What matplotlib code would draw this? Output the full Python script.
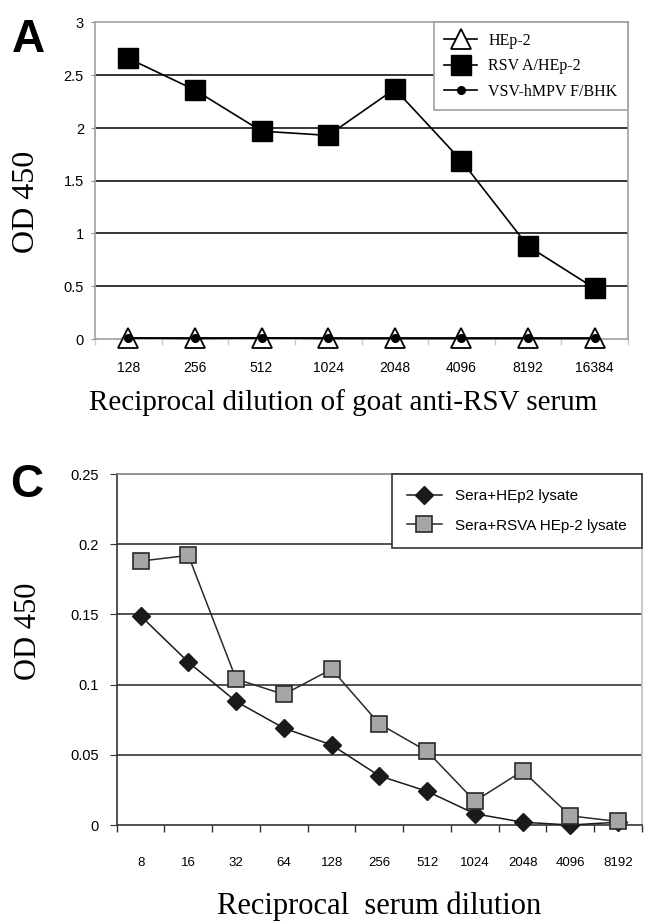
"""
Two-panel ELISA figure: OD 450 vs reciprocal dilution (panels A and C).
"""

import numpy as np
import matplotlib
matplotlib.use("Agg")
import matplotlib.pyplot as plt
from matplotlib.ticker import FixedLocator

# Panel A data
dil_a = ['128', '256', '512', '1024', '2048', '4096', '8192', '16384']
hep2 = [0.01, 0.01, 0.01, 0.01, 0.01, 0.01, 0.01, 0.01]
rsv_a = [2.66, 2.36, 1.97, 1.93, 2.37, 1.69, 0.88, 0.48]
vsv = [0.01, 0.005, 0.01, 0.005, 0.005, 0.005, 0.005, 0.005]

# Panel C data
dil_c = ['8', '16', '32', '64', '128', '256', '512', '1024', '2048', '4096', '8192']
sera_hep2 = [0.149, 0.116, 0.088, 0.069, 0.057, 0.035, 0.024, 0.008, 0.002, 0.0, 0.002]
sera_rsva = [0.188, 0.192, 0.104, 0.093, 0.111, 0.072, 0.0525, 0.017, 0.0385, 0.0065, 0.0025]

SANS = 'Liberation Sans'
SERIF = 'Liberation Serif'
W, H = 649, 922

fig = plt.figure(figsize=(W / 100, H / 100), dpi=100)


def px_axes(left, top, right, bottom):
    return fig.add_axes([left / W, 1 - bottom / H, (right - left) / W, (bottom - top) / H])


def cat_axis(ax, labels, pad, size, tick_color, tick_len):
    n = len(labels)
    x = np.arange(n)
    ax.set_xlim(-0.5, n - 0.5)
    ax.set_xticks(x)
    ax.set_xticklabels(labels, fontfamily=SANS, fontsize=size)
    ax.tick_params(axis='x', which='major', length=0, pad=pad)
    ax.xaxis.set_minor_locator(FixedLocator(np.arange(n + 1) - 0.5))
    ax.tick_params(axis='x', which='minor', length=tick_len, direction='out',
                   color=tick_color, width=1)
    return x


# ---------------- Panel A ----------------
ax1 = px_axes(95, 22.5, 628, 339)
x1 = cat_axis(ax1, dil_a, pad=16, size=10, tick_color='#c8c8c8', tick_len=4)
ax1.set_ylim(0, 3)
ax1.set_yticks([0, 0.5, 1, 1.5, 2, 2.5, 3])
ax1.set_yticklabels(['0', '0.5', '1', '1.5', '2', '2.5', '3'], fontfamily=SANS, fontsize=10.5)
ax1.tick_params(axis='y', length=3, color='#909090', pad=5)
for yv in [0.5, 1, 1.5, 2, 2.5]:
    ax1.axhline(yv, color='black', lw=1.1, zorder=1)
for s in ax1.spines.values():
    s.set_color('#a0a0a0')
    s.set_linewidth(1.2)

ax1.plot(x1, hep2, color='black', lw=1.2, marker='^', ms=14, mfc='white',
         mec='black', mew=1.3, label='HEp-2', zorder=3, clip_on=False)
ax1.plot(x1, rsv_a, color='black', lw=1.2, marker='s', ms=14, mfc='black',
         mec='black', label='RSV A/HEp-2', zorder=4, clip_on=False)
ax1.plot(x1, vsv, color='black', lw=1.2, marker='o', ms=5.5, mfc='black',
         mec='black', label='VSV-hMPV F/BHK', zorder=5, clip_on=False)

leg1 = ax1.legend(loc='upper right', bbox_to_anchor=(1.0, 1.0), frameon=True,
                  fancybox=False, edgecolor='#a0a0a0', framealpha=1,
                  prop={'family': SERIF, 'size': 11.5}, handlelength=2.05,
                  labelspacing=0.6, borderpad=0.65, handletextpad=0.7,
                  borderaxespad=0, markerscale=1.0)
leg1.get_frame().set_linewidth(1.2)
leg1.set_zorder(10)

fig.text(12 / W, 1 - 18 / H, 'A', fontfamily=SANS, fontweight='bold', fontsize=33,
         ha='left', va='top')
fig.text(27 / W, 1 - 202 / H, 'OD 450', fontfamily=SERIF, fontsize=23,
         rotation=90, ha='center', va='center')
fig.text(343 / W, 1 - 410 / H, 'Reciprocal dilution of goat anti-RSV serum',
         fontfamily=SERIF, fontsize=21, ha='center', va='baseline')

# ---------------- Panel C ----------------
ax2 = px_axes(116.7, 474, 642, 825)
x2 = cat_axis(ax2, dil_c, pad=23, size=9.5, tick_color='#333333', tick_len=5)
ax2.set_ylim(0, 0.25)
ax2.set_yticks([0, 0.05, 0.1, 0.15, 0.2, 0.25])
ax2.set_yticklabels(['0', '0.05', '0.1', '0.15', '0.2', '0.25'], fontfamily=SANS, fontsize=10.5)
ax2.tick_params(axis='y', length=5, color='#333333', pad=8)
for yv in [0.05, 0.1, 0.15, 0.2]:
    ax2.axhline(yv, color='#222222', lw=1.1, zorder=1)
ax2.spines['left'].set_color('#333333')
ax2.spines['bottom'].set_color('#333333')
ax2.spines['top'].set_color('#808080')
ax2.spines['right'].set_color('#c0c0c0')
for s in ax2.spines.values():
    s.set_linewidth(1.2)

ax2.plot(x2, sera_hep2, color='#1a1a1a', lw=1.1, marker='D', ms=9.5, mfc='#1a1a1a',
         mec='#1a1a1a', label='Sera+HEp2 lysate', zorder=3, clip_on=False)
ax2.plot(x2, sera_rsva, color='#2a2a2a', lw=1.1, marker='s', ms=11.5, mfc='#a6a6a6',
         mec='#2a2a2a', mew=1.2, label='Sera+RSVA HEp-2 lysate', zorder=4, clip_on=False)

leg2 = ax2.legend(loc='upper right', bbox_to_anchor=(1.0, 1.0), frameon=True,
                  fancybox=False, edgecolor='#333333', framealpha=1,
                  prop={'family': SANS, 'size': 11}, handlelength=2.3,
                  labelspacing=1.0, borderpad=1.0, handletextpad=0.85,
                  borderaxespad=0)
leg2.get_frame().set_linewidth(1.2)
leg2.set_zorder(10)

fig.text(10 / W, 1 - 463 / H, 'C', fontfamily=SANS, fontweight='bold', fontsize=33,
         ha='left', va='top')
fig.text(29 / W, 1 - 631 / H, 'OD 450', fontfamily=SERIF, fontsize=22,
         rotation=90, ha='center', va='center')
fig.text(379 / W, 1 - 914 / H, 'Reciprocal  serum dilution',
         fontfamily=SERIF, fontsize=22, ha='center', va='baseline')

plt.savefig('out.png', dpi=100)
plt.close()
